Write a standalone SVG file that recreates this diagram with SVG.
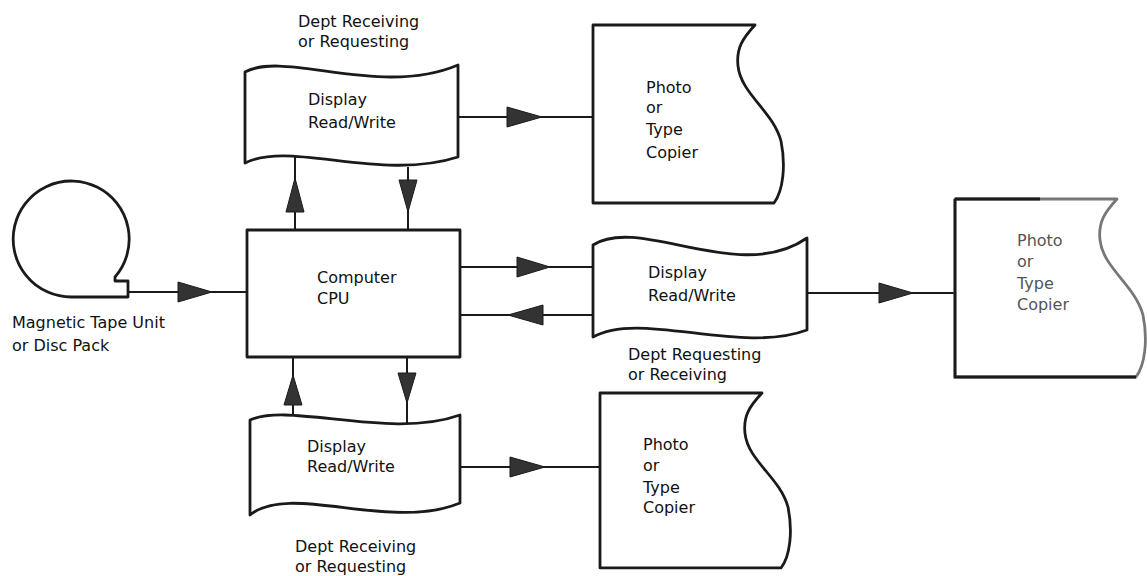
<svg xmlns="http://www.w3.org/2000/svg" width="1147" height="576" viewBox="0 0 1147 576">
<style>
.sh{fill:#fff;stroke:#1a1a1a;stroke-width:2.8;stroke-linejoin:round}
.ln{fill:none;stroke:#1a1a1a;stroke-width:2}
.ar{fill:#333;stroke:#1a1a1a;stroke-width:1}
text{font-family:"DejaVu Sans","Liberation Sans",sans-serif;font-size:16px;fill:#111}
.gr{fill:#555}
</style>
<defs>
<path id="copier" d="M0,0 L162,0 C150,13 143,23 145,41 C148,69 180,86 188,116 C193,141 190,166 181,178 L0,178 Z"/>
</defs>
<rect width="1147" height="576" fill="#fff"/>

<g id="connectors">
<line class="ln" x1="128" y1="292" x2="247" y2="292"/>
<polygon class="ar" points="178,282 212,292 178,302"/>
<line class="ln" x1="458" y1="117" x2="593" y2="117"/>
<polygon class="ar" points="507,107 542,117 507,127"/>
<line class="ln" x1="295" y1="153" x2="295" y2="230"/>
<polygon class="ar" points="286,212 295,178 304,212"/>
<line class="ln" x1="408" y1="167" x2="408" y2="230"/>
<polygon class="ar" points="399,180 408,212 417,180"/>
<line class="ln" x1="460" y1="267" x2="593" y2="267"/>
<polygon class="ar" points="517,257 550,267 517,277"/>
<line class="ln" x1="460" y1="315" x2="593" y2="315"/>
<polygon class="ar" points="543,305 508,315 543,325"/>
<line class="ln" x1="807" y1="293" x2="955" y2="293"/>
<polygon class="ar" points="879,283 913,293 879,303"/>
<line class="ln" x1="293" y1="357" x2="293" y2="414"/>
<polygon class="ar" points="284,405 293,375 302,405"/>
<line class="ln" x1="407" y1="357" x2="407" y2="424"/>
<polygon class="ar" points="398,373 407,403 416,373"/>
<line class="ln" x1="460" y1="467" x2="600" y2="467"/>
<polygon class="ar" points="510,457 545,467 510,477"/>
</g>

<g id="tape">
<path class="sh" d="M72,297 A58,58 0 1 1 115,277 L115,281 L128,281 L128,297 Z"/>
<text x="12" y="328">Magnetic Tape Unit</text>
<text x="12" y="351">or Disc Pack</text>
</g>

<g id="cpu">
<rect class="sh" x="247" y="230" width="213" height="127"/>
<text x="317" y="283">Computer</text>
<text x="317" y="304">CPU</text>
</g>

<g id="display-top">
<path class="sh" d="M245,72 C285,50 380,98 458,65 L458,157 C380,182 290,140 245,163 Z"/>
<text x="308" y="105">Display</text>
<text x="308" y="128">Read/Write</text>
<text x="298" y="27">Dept Receiving</text>
<text x="298" y="47">or Requesting</text>
</g>

<g id="display-mid">
<path class="sh" d="M593,245 C640,215 740,285 807,238 L807,330 C740,355 640,310 593,337 Z"/>
<text x="648" y="278">Display</text>
<text x="648" y="301">Read/Write</text>
<text x="628" y="360">Dept Requesting</text>
<text x="628" y="380">or Receiving</text>
</g>

<g id="display-bottom">
<path class="sh" d="M250,420 C290,402 390,440 460,415 L460,503 C390,532 290,482 250,515 Z"/>
<text x="307" y="452">Display</text>
<text x="307" y="472">Read/Write</text>
<text x="295" y="552">Dept Receiving</text>
<text x="295" y="572">or Requesting</text>
</g>

<g id="copier-top">
<use href="#copier" class="sh" transform="translate(593,25)"/>
<text x="646" y="93">Photo</text>
<text x="646" y="113">or</text>
<text x="646" y="135">Type</text>
<text x="646" y="158">Copier</text>
</g>

<g id="copier-right">
<use href="#copier" class="sh" transform="translate(955,199)" style="stroke:#777"/>
<path d="M955,199 L1040,199 M955,199 L955,377 L1136,377" fill="none" stroke="#1a1a1a" stroke-width="2.8"/>
<text class="gr" x="1017" y="246">Photo</text>
<text class="gr" x="1017" y="267">or</text>
<text class="gr" x="1017" y="289">Type</text>
<text class="gr" x="1017" y="310">Copier</text>
</g>

<g id="copier-bottom">
<use href="#copier" class="sh" transform="translate(600,393) scale(1,0.983)"/>
<text x="643" y="450">Photo</text>
<text x="643" y="471">or</text>
<text x="643" y="493">Type</text>
<text x="643" y="513">Copier</text>
</g>
</svg>
